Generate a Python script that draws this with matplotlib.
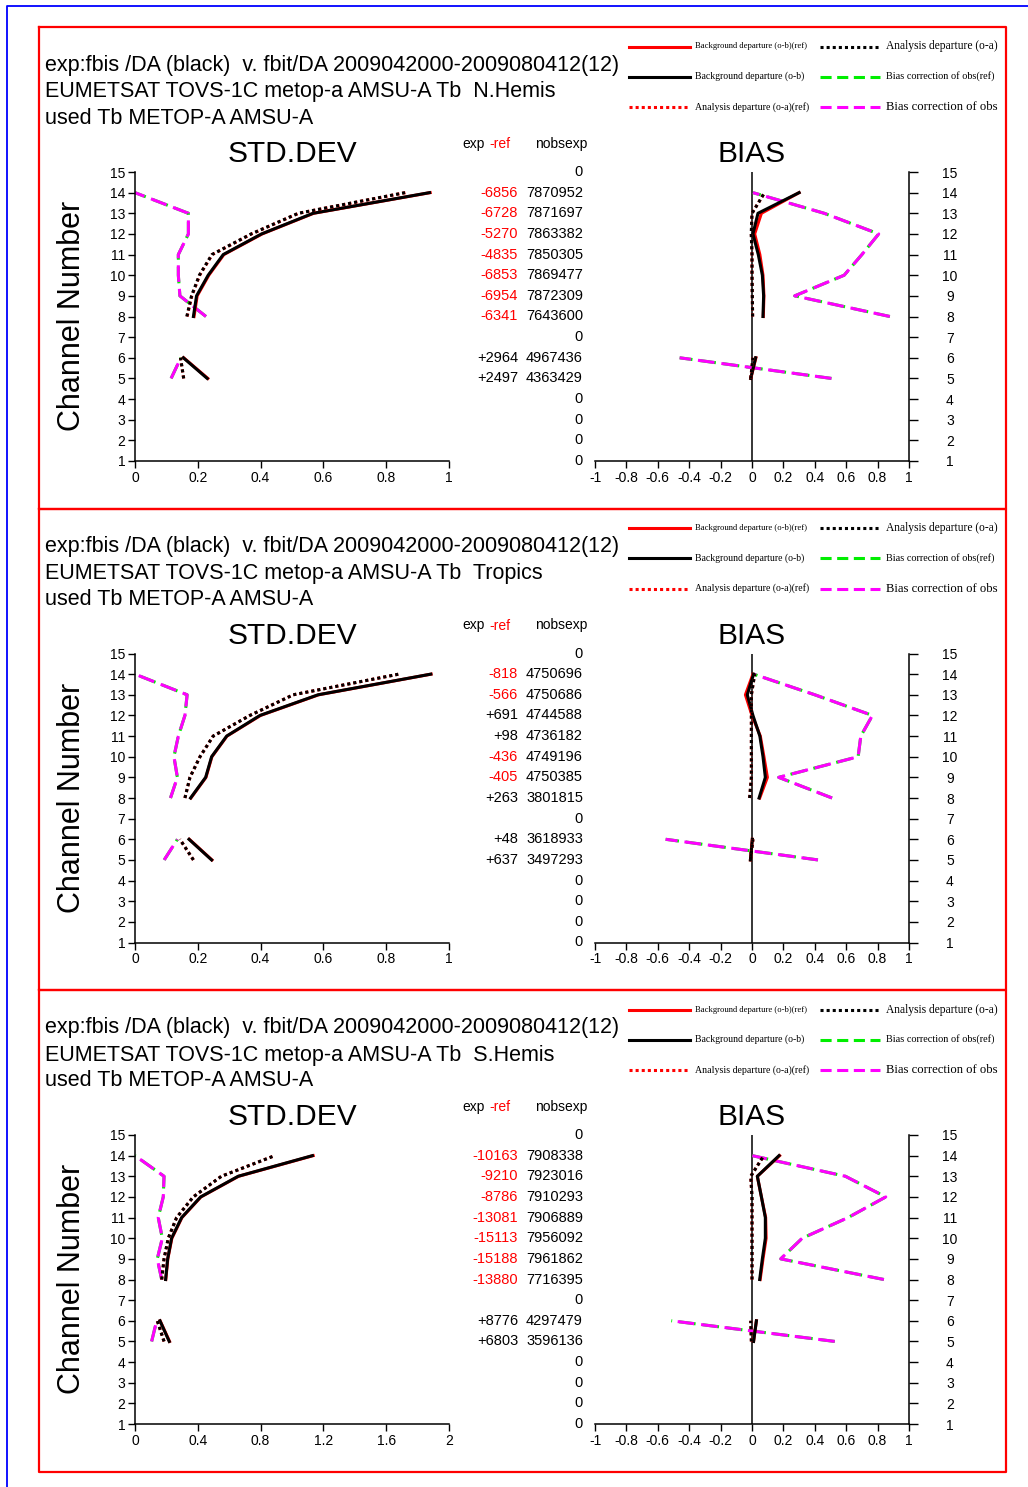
import numpy as np
import matplotlib
matplotlib.use('Agg')
import matplotlib.pyplot as plt

plt.rcParams['font.family'] = ['Liberation Sans', 'DejaVu Sans']
plt.rcParams['lines.scale_dashes'] = False
plt.rcParams['axes.unicode_minus'] = False

W, H = 1028, 1487
nan = np.nan

# channels that carry data (7 is empty)
channels = [5, 6, 7, 8, 9, 10, 11, 12, 13, 14]
rows = list(range(15, 0, -1))

# ---- N.Hemis ----
nh_std_ob_ref = [0.232, 0.155, nan, 0.188, 0.198, 0.235, 0.283, 0.405, 0.569, 0.940]
nh_std_ob     = [0.230, 0.154, nan, 0.186, 0.196, 0.233, 0.281, 0.403, 0.567, 0.938]
nh_std_oa_ref = [0.155, 0.145, nan, 0.166, 0.181, 0.206, 0.246, 0.371, 0.521, 0.861]
nh_std_oa     = [0.155, 0.145, nan, 0.165, 0.180, 0.205, 0.245, 0.370, 0.520, 0.860]
nh_std_bc_ref = [0.115, 0.146, nan, 0.226, 0.143, 0.138, 0.138, 0.170, 0.170, 0.0]
nh_std_bc     = [0.115, 0.146, nan, 0.226, 0.143, 0.138, 0.138, 0.170, 0.170, 0.0]
nh_bias_ob_ref = [-0.008, 0.025, nan, 0.072, 0.076, 0.070, 0.050, 0.017, 0.060, 0.300]
nh_bias_ob     = [-0.008, 0.023, nan, 0.070, 0.074, 0.066, 0.040, 0.006, 0.038, 0.300]
nh_bias_oa_ref = [-0.008, 0.006, nan, 0.004, 0.002, 0.0, 0.0, -0.004, 0.0, 0.080]
nh_bias_oa     = [-0.008, 0.006, nan, 0.004, 0.002, 0.0, 0.0, -0.005, 0.0, 0.080]
nh_bias_bc_ref = [0.506, -0.461, nan, 0.878, 0.272, 0.587, 0.700, 0.807, 0.460, 0.006]
nh_bias_bc     = [0.506, -0.461, nan, 0.878, 0.272, 0.587, 0.700, 0.807, 0.460, 0.006]
nh_diff = [None, -6856, -6728, -5270, -4835, -6853, -6954, -6341, None, 2964, 2497, None, None, None, None]
nh_nobs = [0, 7870952, 7871697, 7863382, 7850305, 7869477, 7872309, 7643600, 0, 4967436, 4363429, 0, 0, 0, 0]

# ---- Tropics ----
tr_std_ob_ref = [0.245, 0.173, nan, 0.178, 0.226, 0.245, 0.293, 0.400, 0.585, 0.943]
tr_std_ob     = [0.244, 0.172, nan, 0.177, 0.225, 0.244, 0.292, 0.398, 0.583, 0.942]
tr_std_oa_ref = [0.186, 0.143, nan, 0.159, 0.175, 0.207, 0.249, 0.366, 0.504, 0.840]
tr_std_oa     = [0.186, 0.143, nan, 0.159, 0.175, 0.207, 0.249, 0.366, 0.504, 0.840]
tr_std_bc_ref = [0.093, 0.135, nan, 0.113, 0.135, 0.124, 0.138, 0.159, 0.166, 0.0]
tr_std_bc     = [0.093, 0.135, nan, 0.113, 0.135, 0.124, 0.138, 0.159, 0.166, 0.0]
tr_bias_ob_ref = [-0.010, 0.002, nan, 0.049, 0.098, 0.076, 0.053, 0.0, -0.042, 0.006]
tr_bias_ob     = [-0.010, 0.002, nan, 0.045, 0.085, 0.070, 0.050, 0.006, -0.030, 0.010]
tr_bias_oa_ref = [-0.010, 0.006, nan, -0.015, -0.004, -0.004, -0.004, -0.004, -0.004, 0.017]
tr_bias_oa     = [-0.010, 0.006, nan, -0.015, -0.004, -0.004, -0.004, -0.004, -0.004, 0.017]
tr_bias_bc_ref = [0.420, -0.550, nan, 0.510, 0.170, 0.676, 0.693, 0.767, 0.400, 0.010]
tr_bias_bc     = [0.420, -0.550, nan, 0.510, 0.170, 0.676, 0.693, 0.767, 0.400, 0.010]
tr_diff = [None, -818, -566, 691, 98, -436, -405, 263, None, 48, 637, None, None, None, None]
tr_nobs = [0, 4750696, 4750686, 4744588, 4736182, 4749196, 4750385, 3801815, 0, 3618933, 3497293, 0, 0, 0, 0]

# ---- S.Hemis ----
sh_std_ob_ref = [0.220, 0.160, nan, 0.196, 0.209, 0.235, 0.299, 0.420, 0.660, 1.135]
sh_std_ob     = [0.218, 0.159, nan, 0.195, 0.208, 0.233, 0.297, 0.418, 0.657, 1.130]
sh_std_oa_ref = [0.185, 0.142, nan, 0.170, 0.185, 0.212, 0.265, 0.371, 0.550, 0.890]
sh_std_oa     = [0.185, 0.142, nan, 0.170, 0.185, 0.212, 0.265, 0.371, 0.550, 0.890]
sh_std_bc_ref = [0.106, 0.138, nan, 0.170, 0.142, 0.174, 0.148, 0.180, 0.185, 0.0]
sh_std_bc     = [0.106, 0.138, nan, 0.170, 0.142, 0.174, 0.148, 0.180, 0.185, 0.0]
sh_bias_ob_ref = [0.010, 0.028, nan, 0.052, 0.070, 0.090, 0.087, 0.060, 0.034, 0.176]
sh_bias_ob     = [0.010, 0.028, nan, 0.049, 0.066, 0.085, 0.085, 0.060, 0.034, 0.172]
sh_bias_oa_ref = [-0.004, -0.008, nan, 0.0, 0.0, 0.0, 0.0, 0.0, -0.008, 0.075]
sh_bias_oa     = [-0.004, -0.008, nan, 0.0, 0.0, 0.0, 0.0, 0.0, -0.008, 0.075]
sh_bias_bc_ref = [0.527, -0.514, nan, 0.840, 0.183, 0.320, 0.612, 0.852, 0.595, 0.002]
sh_bias_bc     = [0.527, -0.514, nan, 0.840, 0.183, 0.320, 0.612, 0.852, 0.595, 0.002]
sh_diff = [None, -10163, -9210, -8786, -13081, -15113, -15188, -13880, None, 8776, 6803, None, None, None, None]
sh_nobs = [0, 7908338, 7923016, 7910293, 7906889, 7956092, 7961862, 7716395, 0, 4297479, 3596136, 0, 0, 0, 0]

regions = ['N.Hemis', 'Tropics', 'S.Hemis']
panel_tops = [27, 508.5, 990]
std_xmax = [1, 1, 2]
std_xticks = [[0, 0.2, 0.4, 0.6, 0.8, 1], [0, 0.2, 0.4, 0.6, 0.8, 1], [0, 0.4, 0.8, 1.2, 1.6, 2]]

LW = 2.2
DOT = (0, (2.2, 2.2))
DASH = (0, (12, 5))
DASH_REF = (1, (12, 5))

fig = plt.figure(figsize=(W / 100, H / 100), dpi=100)
bg = fig.add_axes([0, 0, 1, 1], zorder=0)
bg.set_xlim(0, W)
bg.set_ylim(H, 0)
bg.axis('off')


def px_axes(l, t, r, b):
    ax = fig.add_axes([l / W, 1 - b / H, (r - l) / W, (b - t) / H], zorder=2)
    ax.set_facecolor('none')
    return ax


def draw_lines(ax, vals):
    ob_ref, ob, oa_ref, oa, bc_ref, bc = vals
    ax.plot(bc_ref, channels, color='#00ee00', lw=LW, linestyle=DASH_REF)
    ax.plot(bc, channels, color='#ff00ff', lw=LW, linestyle=DASH)
    ax.plot(ob_ref, channels, color='red', lw=LW)
    ax.plot(ob, channels, color='black', lw=LW)
    ax.plot(oa_ref, channels, color='red', lw=LW, linestyle=DOT)
    ax.plot(oa, channels, color='black', lw=LW, linestyle=DOT)


def fmt(v):
    return '{:g}'.format(v)


def draw_panel(k, std_vals, bias_vals, diffs, nobs):
    top = panel_tops[k]
    t, b = top + 145, top + 434

    # headings
    bg.text(45, top + 38, 'exp:fbis /DA (black)  v. fbit/DA 2009042000-2009080412(12)',
            fontsize=15.5, va='center', ha='left')
    bg.text(45, top + 65, 'EUMETSAT TOVS-1C metop-a AMSU-A Tb  ' + regions[k],
            fontsize=15.5, va='center', ha='left')
    bg.text(45, top + 91, 'used Tb METOP-A AMSU-A', fontsize=15.5, va='center', ha='left')
    bg.text(292, top + 127, 'STD.DEV', fontsize=21.5, va='center', ha='center')
    bg.text(752, top + 127, 'BIAS', fontsize=21.5, va='center', ha='center')
    bg.text(72, top + 289, 'Channel Number', fontsize=22, va='center', ha='center', rotation=90)

    # legend
    ly = [top + 19.5, top + 49.5, top + 80]
    bg.plot([629, 690], [ly[0], ly[0]], color='red', lw=LW)
    bg.plot([629, 690], [ly[1], ly[1]], color='black', lw=LW)
    bg.plot([629, 690], [ly[2], ly[2]], color='red', lw=LW, linestyle=DOT)
    bg.plot([820, 880], [ly[0], ly[0]], color='black', lw=LW, linestyle=DOT)
    bg.plot([820, 880], [ly[1], ly[1]], color='#00ee00', lw=LW, linestyle=(0, (8, 4)))
    bg.plot([820, 880], [ly[2], ly[2]], color='#ff00ff', lw=LW, linestyle=(0, (8, 4)))
    leg = [(695, ly[0], 'Background departure (o-b)(ref)', 6.2),
           (695, ly[1], 'Background departure (o-b)', 7.0),
           (695, ly[2], 'Analysis departure (o-a)(ref)', 7.1),
           (886, ly[0], 'Analysis departure (o-a)', 8.3),
           (886, ly[1], 'Bias correction of obs(ref)', 7.4),
           (886, ly[2], 'Bias correction of obs', 9.1)]
    for x, y, s, fs in leg:
        bg.text(x, y, s, fontsize=fs, family='Liberation Serif', va='center', ha='left')

    # count columns
    bg.text(462, top + 117, 'exp', fontsize=10, va='center', ha='left')
    bg.text(489, top + 117, '-ref', fontsize=10, va='center', ha='left', color='red')
    bg.text(535, top + 117, 'nobsexp', fontsize=10, va='center', ha='left')
    step = (b - t) / 14
    for i, ch in enumerate(rows):
        y = t + (15 - ch) * step
        bg.text(583, y, str(nobs[i]), fontsize=10.5, va='center', ha='right')
        if diffs[i] is not None:
            bg.text(518, y, '{:+d}'.format(diffs[i]), fontsize=10.5, va='center', ha='right',
                    color='red' if diffs[i] < 0 else 'black')

    # std.dev axes
    ax = px_axes(135, t, 449, b)
    draw_lines(ax, std_vals)
    ax.set_xlim(0, std_xmax[k])
    ax.set_ylim(1, 15)
    ax.set_xticks(std_xticks[k])
    ax.set_xticklabels([fmt(v) for v in std_xticks[k]])
    ax.set_yticks(range(1, 16))
    for s in ('top', 'right'):
        ax.spines[s].set_visible(False)
    for s in ('left', 'bottom'):
        ax.spines[s].set_linewidth(1.1)
    ax.tick_params(axis='both', direction='out', length=5, width=1, labelsize=10, pad=2)

    # bias axes
    ax2 = px_axes(595, t, 909, b)
    draw_lines(ax2, bias_vals)
    ax2.axvline(0, color='black', lw=1.1, zorder=1)
    ax2.set_xlim(-1, 1)
    ax2.set_ylim(1, 15)
    bt = [-1, -0.8, -0.6, -0.4, -0.2, 0, 0.2, 0.4, 0.6, 0.8, 1]
    ax2.set_xticks(bt)
    ax2.set_xticklabels([fmt(v) for v in bt])
    ax2.set_yticks(range(1, 16))
    ax2.yaxis.tick_right()
    for s in ('top', 'left'):
        ax2.spines[s].set_visible(False)
    for s in ('right', 'bottom'):
        ax2.spines[s].set_linewidth(1.1)
    ax2.tick_params(axis='x', direction='out', length=5, width=1, labelsize=10, pad=2)
    ax2.tick_params(axis='y', direction='out', length=6.5, width=1, labelsize=10, pad=23)
    for lab in ax2.get_yticklabels():
        lab.set_horizontalalignment('center')

    # red frame
    bg.plot([39, 1006, 1006, 39, 39], [top, top, top + 481.5, top + 481.5, top],
            color='red', lw=1.6)


draw_panel(0, (nh_std_ob_ref, nh_std_ob, nh_std_oa_ref, nh_std_oa, nh_std_bc_ref, nh_std_bc),
           (nh_bias_ob_ref, nh_bias_ob, nh_bias_oa_ref, nh_bias_oa, nh_bias_bc_ref, nh_bias_bc),
           nh_diff, nh_nobs)
draw_panel(1, (tr_std_ob_ref, tr_std_ob, tr_std_oa_ref, tr_std_oa, tr_std_bc_ref, tr_std_bc),
           (tr_bias_ob_ref, tr_bias_ob, tr_bias_oa_ref, tr_bias_oa, tr_bias_bc_ref, tr_bias_bc),
           tr_diff, tr_nobs)
draw_panel(2, (sh_std_ob_ref, sh_std_ob, sh_std_oa_ref, sh_std_oa, sh_std_bc_ref, sh_std_bc),
           (sh_bias_ob_ref, sh_bias_ob, sh_bias_oa_ref, sh_bias_oa, sh_bias_bc_ref, sh_bias_bc),
           sh_diff, sh_nobs)

# outer blue frame
bg.plot([1028, 7, 7], [6, 6, H], color='blue', lw=1.3)

fig.savefig('out.png', dpi=100)
